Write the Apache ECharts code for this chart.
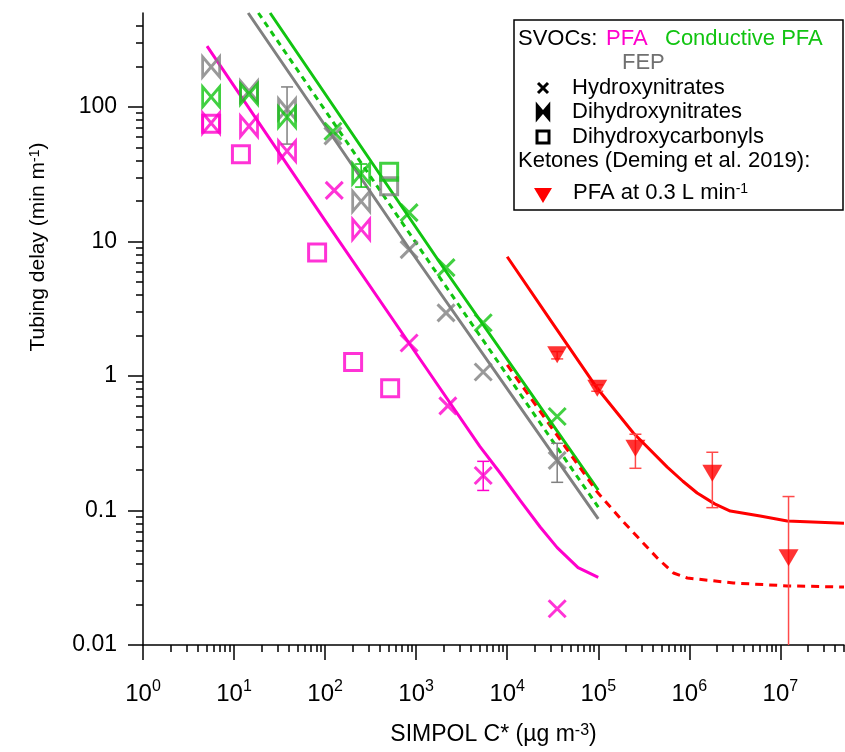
<!DOCTYPE html>
<html>
<head>
<meta charset="utf-8">
<title>Tubing delay vs SIMPOL C*</title>
<script src="https://cdn.jsdelivr.net/npm/echarts@6.0.0/dist/echarts.min.js"></script>
<style>
html, body { margin: 0; padding: 0; background: #fff; }
#chart { width: 845px; height: 752px; }
</style>
</head>
<body>
<div id="chart"></div>
<script>
// ---- ticks ----
var xMajor = [1, 10, 1e2, 1e3, 1e4, 1e5, 1e6, 1e7];
var yMajor = [0.01, 0.1, 1, 10, 100];
var yTickLabels = ['0.01', '0.1', '1', '10', '100'];

var xMinor = [];
for (var d = 0; d < 8; d++) {
	for (var k = 2; k <= 9; k++) xMinor.push(k * Math.pow(10, d));
}
var yMinor = [];
for (var e = -2; e < 3; e++) {
	for (var m = 2; m <= 9; m++) {
		var v = m * Math.pow(10, e);
		if (v < 500) yMinor.push(v);
	}
}

// ---- SVOCs: PFA (magenta) ----
var pfaHN = [[126, 24], [837, 1.76], [2230, 0.60], [5450, 0.182], [35400, 0.0186]];
var pfaDHN = [[5.6, 76], [14.6, 72], [38.2, 47], [249, 12.3]];
var pfaDHC = [[5.6, 75], [11.9, 44.6], [81.7, 8.3], [203, 1.27], [518, 0.81]];
var pfaErr = [[5450, 0.141, 0.232, 1]];
var pfaFit = [[5.05, 284], [100, 14.3], [1000, 1.47], [5000, 0.30], [8370, 0.190], [14000, 0.118],
	[23000, 0.0754], [35400, 0.053], [60000, 0.0376], [100000, 0.0318]];

// ---- SVOCs: Conductive PFA (green) ----
var cpfaHN = [[122, 66], [837, 16.4], [2130, 6.4], [5450, 2.49], [35400, 0.50]];
var cpfaDHN = [[5.6, 119], [14.6, 125], [38.2, 84], [249, 32]];
var cpfaDHC = [[505, 33]];
var cpfaErr = [[249, 25.4, 37.7, 1]];
var cpfaFit = [[24.9, 500], [1835, 6.92], [100000, 0.142]];
var cpfaFitDot = [[18.5, 500], [1540, 6.35], [100000, 0.106]];

// ---- SVOCs: FEP (gray) ----
var fepHN = [[122, 61], [837, 8.7], [2130, 2.95], [5450, 1.07], [35400, 0.236]];
var fepDHN = [[5.6, 199], [14.6, 131], [38.2, 96.6], [249, 19.9]];
var fepDHC = [[505, 25.7]];
var fepErr = [[38.2, 53, 141, 1], [35400, 0.162, 0.316, 1]];
var fepFit = [[14.3, 500], [859, 8.65], [100000, 0.0865]];

// ---- Ketones (Deming et al. 2019), PFA at 0.3 L/min (red) ----
var ketPts = [[35400, 1.44], [97500, 0.81], [256000, 0.29], [1790000, 0.189], [12300000, 0.0446]];
var ketErr = [[35400, 1.34, 1.52, 1], [97500, 0.77, 0.86, 1], [256000, 0.206, 0.369, 1],
	[1790000, 0.105, 0.271, 1], [12300000, 0.01, 0.127, 0]];
var ketFit = [[1e4, 7.7], [29700, 2.61], [97500, 0.81], [243000, 0.377], [573000, 0.21], [850000, 0.165],
	[1220000, 0.135], [1900000, 0.112], [2820000, 0.099], [6000000, 0.091], [11900000, 0.0835], [50000000, 0.0805]];
var ketFitDash = [[1e4, 1.21], [97500, 0.137], [136000, 0.106], [190000, 0.082], [290000, 0.0604],
	[450000, 0.044], [670000, 0.0343], [950000, 0.0315], [3050000, 0.0289], [11900000, 0.0275], [50000000, 0.027]];

var C_PFA = '#ff00cc';
var C_CPFA = '#11c411';
var C_FEP = '#808080';
var C_RED = '#ff0000';
var FONT = "'Liberation Sans', Arial, sans-serif";

var SYM_X = 'path://M0,0L10,10M10,0L0,10';
var SYM_BOW = 'path://M0,0L0,10L10,0L10,10Z';

function fitLine(data, color, type) {
	return {
		type: 'line', data: data, showSymbol: false, silent: true, z: 2,
		lineStyle: { color: color, width: 3, type: type || 'solid', join: 'round' }
	};
}

function markers(data, color, kind) {
	var s = {
		type: 'scatter', data: data, z: 4, silent: true,
		itemStyle: { color: 'rgba(0,0,0,0)', borderColor: color, borderWidth: 3 }
	};
	if (kind == 'x') { s.symbol = SYM_X; s.symbolSize = 17; }
	if (kind == 'bow') { s.symbol = SYM_BOW; s.symbolSize = [17, 20]; }
	if (kind == 'sq') { s.symbol = 'rect'; s.symbolSize = 17; }
	if (kind == 'tri') {
		s.symbol = 'triangle'; s.symbolSize = [20, 17]; s.symbolRotate = 180;
		s.itemStyle = { color: color };
	}
	return s;
}

function errorBars(data, color) {
	return {
		type: 'custom', data: data, z: 3, silent: true,
		encode: { x: 0, y: [1, 2] },
		renderItem: function (params, api) {
			var x = api.value(0);
			var top = api.coord([x, api.value(2)]);
			var bot = api.coord([x, api.value(1)]);
			var cap = 6;
			var st = { stroke: color, lineWidth: 1.5 };
			var kids = [
				{ type: 'line', shape: { x1: top[0], y1: top[1], x2: bot[0], y2: bot[1] }, style: st },
				{ type: 'line', shape: { x1: top[0] - cap, y1: top[1], x2: top[0] + cap, y2: top[1] }, style: st }
			];
			if (api.value(3)) {
				kids.push({ type: 'line', shape: { x1: bot[0] - cap, y1: bot[1], x2: bot[0] + cap, y2: bot[1] }, style: st });
			}
			return { type: 'group', children: kids };
		}
	};
}

var axisLineStyle = { color: '#000', width: 1.5 };
var LEG = '22px ' + FONT;

var option = {
	animation: false,
	backgroundColor: '#fff',
	grid: { left: 143, right: 1, top: 13, bottom: 107, containLabel: false, outerBoundsMode: 'none' },
	xAxis: [{
		type: 'log', logBase: 10, min: 1, max: 5e7, position: 'bottom',
		axisLine: { lineStyle: axisLineStyle },
		axisTick: { customValues: xMajor, length: 15, lineStyle: axisLineStyle },
		axisLabel: {
			customValues: xMajor, margin: 34,
			formatter: function (v) { return '{b|10}{s|' + Math.round(Math.log10(v)) + '}'; },
			rich: {
				b: { fontSize: 24, fontFamily: FONT, color: '#000', lineHeight: 30 },
				s: { fontSize: 16, fontFamily: FONT, color: '#000', verticalAlign: 'top', lineHeight: 17 }
			}
		},
		splitLine: { show: false },
		name: 'SIMPOL C* (\u00b5g m{s|-3})', nameLocation: 'middle', nameGap: 78,
		nameTextStyle: {
			fontSize: 23, fontFamily: FONT, color: '#000',
			rich: { s: { fontSize: 16, fontFamily: FONT, color: '#000', verticalAlign: 'top', lineHeight: 14 } }
		}
	}, {
		type: 'log', logBase: 10, min: 1, max: 5e7, position: 'bottom',
		axisLine: { show: false },
		axisTick: { customValues: xMinor, length: 7, lineStyle: axisLineStyle },
		axisLabel: { show: false },
		splitLine: { show: false }
	}],
	yAxis: [{
		type: 'log', logBase: 10, min: 0.01, max: 500, position: 'left',
		axisLine: { lineStyle: axisLineStyle },
		axisTick: { customValues: yMajor, length: 15, lineStyle: axisLineStyle },
		axisLabel: {
			customValues: yMajor, margin: 26, fontSize: 23, fontFamily: FONT, color: '#000',
			formatter: function (v) { return yTickLabels[Math.round(Math.log10(v)) + 2]; }
		},
		splitLine: { show: false },
		name: 'Tubing delay (min m{s|-1})', nameLocation: 'middle', nameGap: 94,
		nameTextStyle: {
			fontSize: 21, fontFamily: FONT, color: '#000', padding: [0, 0, 0, 164],
			rich: { s: { fontSize: 14, fontFamily: FONT, color: '#000', verticalAlign: 'top', lineHeight: 12 } }
		}
	}, {
		type: 'log', logBase: 10, min: 0.01, max: 500, position: 'left',
		axisLine: { show: false },
		axisTick: { customValues: yMinor, length: 7, lineStyle: axisLineStyle },
		axisLabel: { show: false },
		splitLine: { show: false }
	}],
	series: [
		fitLine(pfaFit, C_PFA),
		fitLine(fepFit, C_FEP),
		fitLine(cpfaFitDot, C_CPFA, [6, 5]),
		fitLine(cpfaFit, C_CPFA),
		fitLine(ketFitDash, C_RED, [8, 6]),
		fitLine(ketFit, C_RED),
		errorBars(fepErr, C_FEP),
		errorBars(cpfaErr, C_CPFA),
		errorBars(pfaErr, C_PFA),
		errorBars(ketErr, '#ff4a4a'),
		markers(fepDHN, C_FEP, 'bow'),
		markers(fepHN, C_FEP, 'x'),
		markers(fepDHC, C_FEP, 'sq'),
		markers(cpfaDHN, C_CPFA, 'bow'),
		markers(cpfaHN, C_CPFA, 'x'),
		markers(cpfaDHC, C_CPFA, 'sq'),
		markers(pfaDHN, C_PFA, 'bow'),
		markers(pfaHN, C_PFA, 'x'),
		markers(pfaDHC, C_PFA, 'sq'),
		markers(ketPts, C_RED, 'tri')
	],
	graphic: [
		{ type: 'rect', z: 10, shape: { x: 514, y: 20, width: 329, height: 190 },
			style: { fill: '#fff', stroke: '#000', lineWidth: 1.5 } },
		{ type: 'text', z: 11, style: { x: 518, y: 39, text: 'SVOCs:', fill: '#000', font: LEG, verticalAlign: 'middle' } },
		{ type: 'text', z: 11, style: { x: 606, y: 39, text: 'PFA', fill: C_PFA, font: LEG, verticalAlign: 'middle' } },
		{ type: 'text', z: 11, style: { x: 665, y: 39, text: 'Conductive PFA', fill: C_CPFA, font: LEG, verticalAlign: 'middle' } },
		{ type: 'text', z: 11, style: { x: 622, y: 63, text: 'FEP', fill: '#707070', font: LEG, verticalAlign: 'middle' } },
		{ type: 'line', z: 11, shape: { x1: 538, y1: 83, x2: 548, y2: 93 }, style: { stroke: '#000', lineWidth: 3 } },
		{ type: 'line', z: 11, shape: { x1: 548, y1: 83, x2: 538, y2: 93 }, style: { stroke: '#000', lineWidth: 3 } },
		{ type: 'text', z: 11, style: { x: 572, y: 88, text: 'Hydroxynitrates', fill: '#000', font: LEG, verticalAlign: 'middle' } },
		{ type: 'polygon', z: 11, shape: { points: [[537, 105], [537, 119], [549, 105], [549, 119]] },
			style: { fill: '#000', stroke: '#000', lineWidth: 2.5 } },
		{ type: 'text', z: 11, style: { x: 572, y: 112, text: 'Dihydroxynitrates', fill: '#000', font: LEG, verticalAlign: 'middle' } },
		{ type: 'rect', z: 11, shape: { x: 537, y: 131, width: 12, height: 12 },
			style: { fill: 'none', stroke: '#000', lineWidth: 3 } },
		{ type: 'text', z: 11, style: { x: 572, y: 137, text: 'Dihydroxycarbonyls', fill: '#000', font: LEG, verticalAlign: 'middle' } },
		{ type: 'text', z: 11, style: { x: 518, y: 161, text: 'Ketones (Deming et al. 2019):', fill: '#000', font: LEG, verticalAlign: 'middle' } },
		{ type: 'polygon', z: 11, shape: { points: [[534, 188], [552, 188], [543, 203]] }, style: { fill: C_RED } },
		{ type: 'text', z: 11, style: {
			x: 573, y: 193, text: 'PFA at 0.3 L min{s|-1}', fill: '#000', font: LEG, verticalAlign: 'middle',
			rich: { s: { fontSize: 14, fontFamily: FONT, fill: '#000', verticalAlign: 'top', lineHeight: 12 } }
		} }
	]
};

var chart = echarts.init(document.getElementById('chart'));
chart.setOption(option);
</script>
</body>
</html>
